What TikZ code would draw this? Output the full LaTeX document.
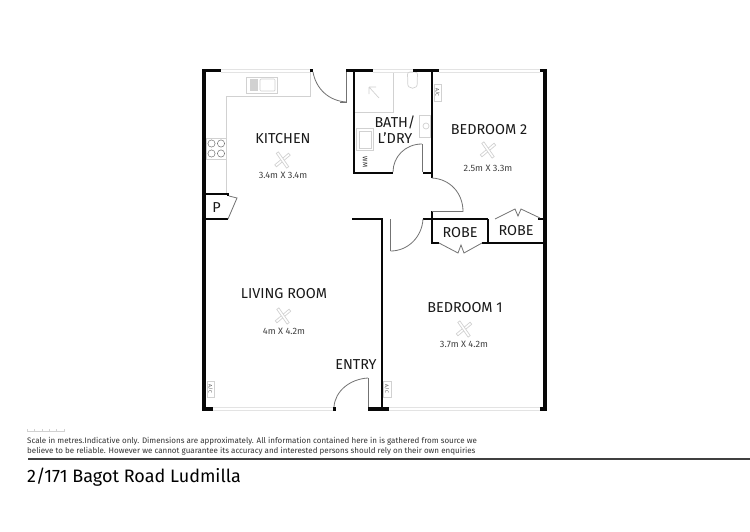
\documentclass[tikz,border=0pt]{standalone}
\usepackage{fontspec}
\setmainfont{Fira Sans}
\definecolor{wall}{gray}{0.03}
\definecolor{thin}{gray}{0.45}
\definecolor{fix}{gray}{0.82}
\tikzset{
  thick wall/.style={draw=wall,line width=4pt},
  top wall/.style={draw=wall,line width=3.3pt},
  inner wall/.style={draw=wall,line width=2pt},
  leaf/.style={draw=thin,line width=0.8pt},
  fixture/.style={draw=fix,line width=0.7pt},
  win/.style={draw=fix!60,line width=0.7pt},
  room/.style={inner sep=0pt,font=\fontsize{14.4}{14.4}\selectfont,text=black!90,align=center},
  dim/.style={inner sep=0pt,font=\fontsize{9.2}{9.2}\selectfont,text=black!75},
  ac/.style={draw=fix,line width=0.6pt,fill=white},
  aclabel/.style={inner sep=0pt,rotate=-90,font=\fontsize{5}{5}\selectfont,text=black!70},
  fan/.pic={
    \draw[fixture,rotate=40,fill=white] (-9,-1.3) rectangle (9,1.3);
    \draw[fixture,rotate=-55,fill=white] (-9,-1.3) rectangle (9,1.3);
  }
}
\begin{document}
\begin{tikzpicture}[x=1pt,y=-1pt]
\useasboundingbox[fill=white] (0,0) rectangle (750,531);
% windows
\foreach \a/\b in {221/310,373/413,439/540}{
  \draw[win] (\a,69.5) -- (\b,69.5) (\a,72) -- (\b,72);}
\foreach \a/\b in {213/334,389/540}{
  \draw[win] (\a,407.5) -- (\b,407.5) (\a,410.5) -- (\b,410.5);}
% kitchen fixtures
\draw[fixture] (226,193) -- (226,96) -- (310,96) -- (310,72);
\draw[fixture] (246,77) rectangle (277,93);
\fill[fix] (250,79) rectangle (258,91);
\draw[fixture,rounded corners=1pt] (260,79) rectangle (275,91);
\draw[fixture] (206,138) rectangle (226.5,159);
\foreach \cx/\cy in {211.5/143.5,221/143.5,211.5/153.5,221/153.5}{
  \draw[draw=thin,line width=0.5pt] (\cx,\cy) circle (3.6);}
% bath fixtures
\draw[fixture] (355,112) -- (393,112) -- (393,73);
\draw[fixture] (379,98) -- (369,87) (369,87) -- (369,94) (369,87) -- (376,87);
\draw[fixture,rounded corners=3pt] (407,72) -- (408,80) .. controls (407,90) and (418,90) .. (417,80) -- (418,72) -- cycle;
\draw[fixture] (356,128) rectangle (373,150);
\draw[fixture] (359,131) rectangle (371,148);
\draw[fixture] (419,115) rectangle (430,137);
\draw[fixture] (426,126) circle (3);
\draw[ac] (434,84) rectangle (441,101);
\draw[ac] (207,381) rectangle (214,397);
\draw[ac] (383,381) rectangle (391,397);
\node[aclabel] (ac3) at (437.5,92.5) {A/C};
\node[aclabel] (ac1) at (210.5,389) {A/C};
\node[aclabel] (ac2) at (387,389) {A/C};
% outer walls
\draw[thick wall] (204,69) -- (204,411);
\draw[top wall] (202,70.6) -- (221,70.6);
\draw[top wall] (310,70.6) -- (313,70.6);
\draw[top wall] (346,70.6) -- (373,70.6);
\draw[top wall] (413,70.6) -- (439,70.6);
\draw[top wall] (540,70.6) -- (547,70.6);
\draw[thick wall] (545,69) -- (545,411);
\draw[thick wall] (202,409) -- (213,409);
\draw[thick wall] (333,409) -- (336,409);
\draw[thick wall] (368,409) -- (389,409);
\draw[thick wall] (540,409) -- (547,409);
% inner walls
\draw[inner wall] (354,71) -- (354,173) -- (393,173);
\draw[inner wall] (423,173) -- (432,173);
\draw[inner wall] (432,71) -- (432,178);
\draw[inner wall] (432,211) -- (432,244);
\draw[inner wall] (352,219) -- (382,219);
\draw[thick wall,line width=2.4pt] (382,218) -- (382,409);
\draw[inner wall] (423,219) -- (488,219);
\draw[inner wall] (488,219) -- (488,243);
\draw[inner wall] (431,243) -- (439,243);
\draw[inner wall] (482,243) -- (544,243);
\draw[inner wall] (538,219) -- (544,219);
% pantry
\draw[inner wall] (205,193.5) -- (228,193.5) -- (228,196);
\draw[inner wall] (205,219.3) -- (228,219.3);
\draw[leaf] (229,196) -- (237,198) -- (228,219);
% doors
\draw[leaf] (346.5,72) -- (346.5,102) -- (340,102);
\draw[leaf] (313,72) .. controls (316,89) and (329,101) .. (346.5,102);
\draw[leaf] (422,172) -- (422,144);
\draw[leaf] (422,144) .. controls (405,144) and (393,157) .. (393,172);
\draw[leaf] (432,178) .. controls (450,179) and (463,193) .. (463,211.5) -- (432,211.5);
\draw[leaf] (390.5,219) -- (390.5,251);
\draw[leaf] (390.5,251) .. controls (408,251) and (422,237) .. (423,219);
\draw[leaf] (368,407) -- (368,378);
\draw[leaf] (368,378) .. controls (350,379) and (335,391) .. (334,407);
% bifold doors
\draw[leaf] (439,243) -- (458,253) -- (461,245) -- (464,253) -- (482,243);
\draw[leaf] (495,219) -- (515,209) -- (518,216) -- (521,209) -- (540,218);
% fans
\pic at (282.5,160) {fan};
\pic at (488,150) {fan};
\pic at (464,329) {fan};
\pic at (283,316) {fan};
% labels
\node[room] (kitchen) at (283,139) {KITCHEN};
\node[dim] (kdim) at (283,175.5) {3.4m X 3.4m};
\node[room] (bath) at (395,129.5) {BATH/\\[1.8pt]L'DRY};
\node[room] (bed2) at (489,130) {BEDROOM 2};
\node[dim] (b2dim) at (488,168) {2.5m X 3.3m};
\node[room] (robea) at (460,233) {ROBE};
\node[room] (robeb) at (516,231) {ROBE};
\node[room] (bed1) at (465,308) {BEDROOM 1};
\node[dim] (b1dim) at (464,344) {3.7m X 4.2m};
\node[room] (living) at (284,294) {LIVING ROOM};
\node[dim] (ldim) at (284,331) {4m X 4.2m};
\node[room] (entry) at (356,365) {ENTRY};
\node[room] (pantry) at (216.5,207.5) {P};
\node[inner sep=0pt,rotate=-90,font=\fontsize{6.5}{6.5}\selectfont,text=black!85] (wm) at (365,162) {WM};
% scale
\draw[draw=fix,line width=0.5pt] (27,431.5) -- (64,431.5);
\foreach \s in {27,34.4,41.8,49.2,56.6,64}{\draw[draw=fix,line width=0.5pt] (\s,429) -- (\s,431.5);}
% footer
\node[inner sep=0pt,anchor=west,font=\fontsize{8}{8}\selectfont,text=black!80] (noteone) at (27,441.5) {Scale in metres.Indicative only. Dimensions are approximately. All information contained here in is gathered from source we};
\node[inner sep=0pt,anchor=west,font=\fontsize{8}{8}\selectfont,text=black!80] (notetwo) at (27,451.5) {believe to be reliable. However we cannot guarantee its accuracy and interested persons should rely on their own enquiries};
\coordinate (rulea) at (28,459);
\coordinate (ruleb) at (750,459);
\draw[draw=black!75,line width=1.4pt] (rulea) -- (ruleb);
\node[inner sep=0pt,anchor=west,font=\fontsize{18}{18}\selectfont,text=black] (title) at (27,477) {2/171 Bagot Road Ludmilla};
\end{tikzpicture}
\end{document}
